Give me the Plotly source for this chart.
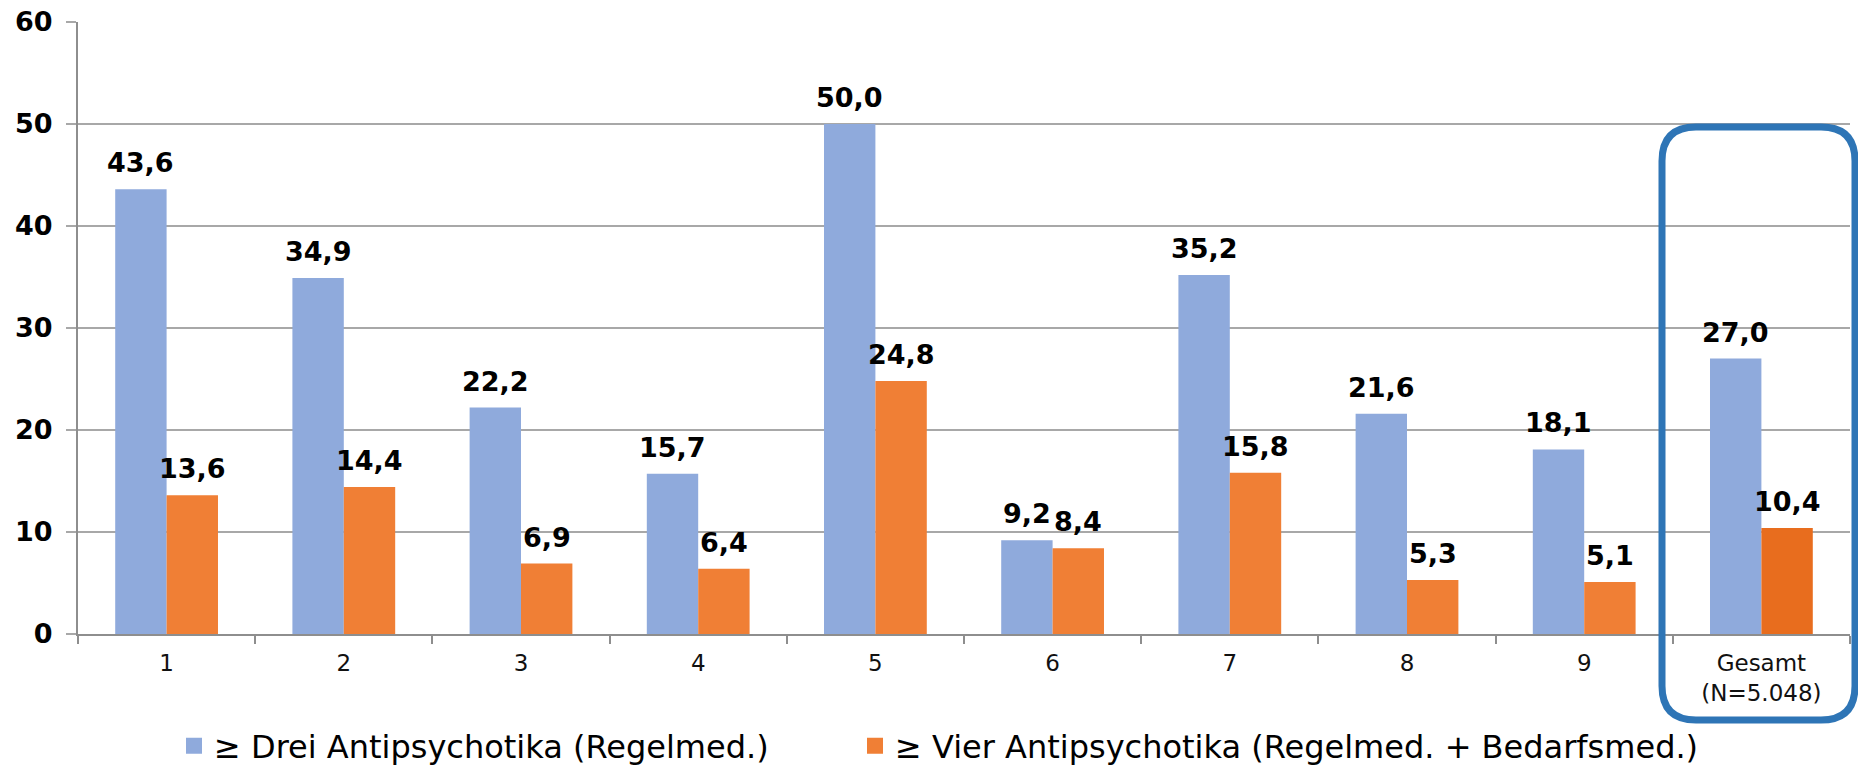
import plotly.graph_objects as go

categories = ["1", "2", "3", "4", "5", "6", "7", "8", "9", "Gesamt<br>(N=5.048)"]
series_names = ["≥ Drei Antipsychotika (Regelmed.)",
                "≥ Vier Antipsychotika (Regelmed. + Bedarfsmed.)"]
drei = [43.6, 34.9, 22.2, 15.7, 50.0, 9.2, 35.2, 21.6, 18.1, 27.0]
vier = [13.6, 14.4, 6.9, 6.4, 24.8, 8.4, 15.8, 5.3, 5.1, 10.4]
y_ticks = [0, 10, 20, 30, 40, 50, 60]

W, H = 1858, 769
ML, MR, MT, MB = 78, 8, 22, 135
FONT = "DejaVu Sans"
BLUE = "#8FAADC"
ORANGE = "#F07F35"
ORANGE_DARK = "#E86D1E"
GRID = "#A8A8A8"
AXIS = "#8E8E8E"
BARGAP = 0.42

orange_colors = [ORANGE] * (len(categories) - 1) + [ORANGE_DARK]

fig = go.Figure()
fig.add_trace(go.Bar(x=categories, y=drei, name=series_names[0],
                     marker=dict(color=BLUE, line=dict(width=0)),
                     showlegend=False))
fig.add_trace(go.Bar(x=categories, y=vier, name=series_names[1],
                     marker=dict(color=orange_colors, line=dict(width=0)),
                     showlegend=False))

# legend entries (bigger square swatches)
fig.add_trace(go.Scatter(x=[None], y=[None], mode="markers",
                         name=series_names[0],
                         marker=dict(symbol="square", size=18, color=BLUE),
                         legend="legend"))
fig.add_trace(go.Scatter(x=[None], y=[None], mode="markers",
                         name=series_names[1],
                         marker=dict(symbol="square", size=18, color=ORANGE),
                         legend="legend2"))

# value labels above bars (x given as category index)
pw, ph = W - ML - MR, H - MT - MB
cat_px = pw / len(categories)
bar_px = cat_px * (1 - BARGAP) / 2
for vals, sign in ((drei, -1), (vier, 1)):
    for i, v in enumerate(vals):
        fig.add_annotation(x=i, y=v, xref="x", yref="y",
                           text=f"{v:.1f}".replace(".", ","),
                           showarrow=False, yanchor="bottom", xanchor="center",
                           xshift=sign * bar_px / 2, yshift=9,
                           font=dict(family=FONT, size=27, color="black",
                                     weight="bold"))

# highlight box around "Gesamt" (pixel geometry -> paper coords)
def px(x): return (x - ML) / pw
def py(y): return (H - MB - y) / ph
L, R, T, B, r = 1662, 1855, 127, 720, 34
rx, ry = r / pw, r / ph
l, rr, t, b = px(L), px(R), py(T), py(B)
path = (f"M {l},{t-ry} Q {l},{t} {l+rx},{t} L {rr-rx},{t} Q {rr},{t} {rr},{t-ry} "
        f"L {rr},{b+ry} Q {rr},{b} {rr-rx},{b} L {l+rx},{b} Q {l},{b} {l},{b+ry} Z")
fig.add_shape(type="path", path=path, xref="paper", yref="paper",
              line=dict(color="#2E75B6", width=7), fillcolor="rgba(0,0,0,0)",
              layer="above")

legend_common = dict(orientation="h", xref="container", yref="paper",
                     xanchor="left", y=py(746), yanchor="middle",
                     font=dict(family=FONT, size=32, color="black"),
                     bgcolor="rgba(0,0,0,0)", borderwidth=0)

fig.update_layout(
    width=W, height=H, autosize=False,
    margin=dict(l=ML, r=MR, t=MT, b=MB, pad=0, autoexpand=False),
    paper_bgcolor="white", plot_bgcolor="white",
    barmode="group", bargap=BARGAP, bargroupgap=0,
    hovermode=False,
    font=dict(family=FONT, color="black"),
    legend=dict(x=174 / W, **legend_common),
    legend2=dict(x=855 / W, **legend_common),
    xaxis=dict(type="category", categoryorder="array", categoryarray=categories,
               range=[-0.5, len(categories) - 0.5], automargin=False,
               showline=True, linecolor=AXIS, linewidth=2,
               ticks="outside", tickson="boundaries", ticklen=8, tickcolor=AXIS,
               tickwidth=1.5, showgrid=False,
               tickfont=dict(family=FONT, size=23, color="#111111"),
               ticklabelstandoff=7),
    yaxis=dict(range=[0, 60], tickvals=y_ticks, automargin=False,
               showline=True, linecolor=AXIS,
               linewidth=2, ticks="outside", ticklen=10, tickcolor=GRID,
               tickwidth=2, showgrid=True, gridcolor=GRID, gridwidth=2,
               zeroline=False,
               tickfont=dict(family=FONT, size=27, color="black", weight="bold"),
               ticklabelstandoff=8),
)

fig.write_html("out.html", post_script="document.body.style.margin='0';",
               config={"displayModeBar": False})
